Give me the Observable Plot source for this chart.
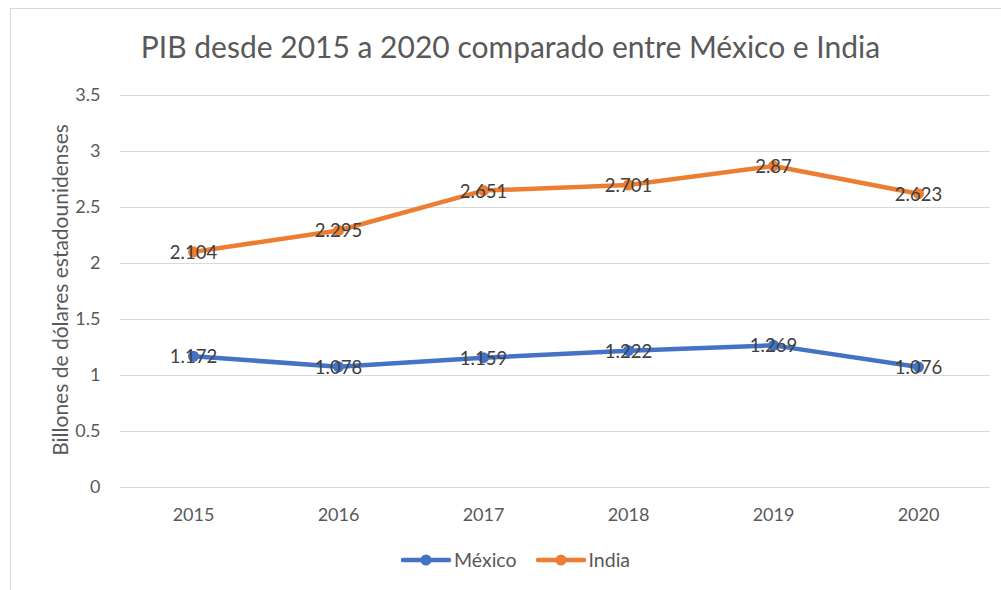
<!DOCTYPE html>
<html>
<head>
<meta charset="utf-8">
<script src="https://cdn.jsdelivr.net/npm/d3@7"></script>
<script src="https://cdn.jsdelivr.net/npm/@observablehq/plot@0.6"></script>
<style>
  html, body { margin: 0; padding: 0; background: #fff; }
  #wrap { position: relative; width: 1001px; height: 590px; overflow: hidden; font-family: Lato, "Open Sans", sans-serif; }
  #frame { position: absolute; left: 10px; top: 8px; width: 1010px; height: 600px; border: 1px solid #d9d9d9; box-sizing: border-box; }
  #title { position: absolute; left: 0; width: 1021px; top: 28px; text-align: center; font-size: 30px; color: #595959; }
  #ylab { position: absolute; left: 59px; top: 290px; transform: translate(-50%, -50%) rotate(-90deg); white-space: nowrap; font-size: 21px; color: #595959; }
  #chart { position: absolute; left: 0; top: 0; }
  #legend { position: absolute; top: 548px; left: 0; width: 1001px; display: flex; justify-content: center; gap: 19px; font-size: 19.5px; color: #595959; padding-left: 30px; box-sizing: border-box; }
  #legend .item { display: flex; align-items: center; gap: 3px; }
</style>
</head>
<body>
<div id="wrap">
  <div id="frame"></div>
  <div id="chart"></div>
  <div id="title">PIB desde 2015 a 2020 comparado entre México e India</div>
  <div id="ylab">Billones de dólares estadounidenses</div>
  <div id="legend"></div>
</div>
<script>
const years = ["2015", "2016", "2017", "2018", "2019", "2020"];
const mexico = [1.172, 1.078, 1.159, 1.222, 1.269, 1.076];
const india = [2.104, 2.295, 2.651, 2.701, 2.87, 2.623];
const seriesNames = ["México", "India"];
const seriesColors = ["#4472C4", "#ED7D31"];
const yTicks = [0, 0.5, 1, 1.5, 2, 2.5, 3, 3.5];

const rows = [];
years.forEach((y, i) => {
  rows.push({year: y, value: mexico[i], series: seriesNames[0]});
});
years.forEach((y, i) => {
  rows.push({year: y, value: india[i], series: seriesNames[1]});
});

const fmt = v => String(v);

const chart = Plot.plot({
  width: 1001,
  height: 590,
  marginLeft: 120,
  marginRight: 11,
  marginTop: 95,
  marginBottom: 103,
  style: {fontFamily: "Lato, 'Open Sans', sans-serif", fontSize: "18px", color: "#595959", background: "transparent"},
  x: {type: "point", domain: years, padding: 0.5, label: null},
  y: {domain: [0, 3.5], label: null},
  color: {domain: seriesNames, range: seriesColors},
  marks: [
    Plot.ruleY(yTicks, {stroke: "#d9d9d9", strokeWidth: 1.2}),
    Plot.axisY(yTicks, {tickSize: 0, tickPadding: 20, tickFormat: fmt, fontSize: 18, fill: "#595959", label: null}),
    Plot.axisX(years, {tickSize: 0, tickPadding: 21, fontSize: 18, fill: "#595959", label: null}),
    Plot.line(rows, {x: "year", y: "value", z: "series", stroke: "series", strokeWidth: 4.5, strokeLinejoin: "round", strokeLinecap: "round"}),
    Plot.dot(rows, {x: "year", y: "value", fill: "series", r: 5.5, stroke: null}),
    Plot.text(rows, {x: "year", y: "value", text: d => fmt(d.value), fill: "#404040", fontSize: 18.5, dy: 1})
  ]
});
document.getElementById("chart").appendChild(chart);

const legend = document.getElementById("legend");
seriesNames.forEach((name, i) => {
  const item = document.createElement("div");
  item.className = "item";
  item.innerHTML = `<svg width="50" height="14"><line x1="2" y1="7" x2="48" y2="7" stroke="${seriesColors[i]}" stroke-width="4.5" stroke-linecap="round"/><circle cx="25" cy="7" r="5.5" fill="${seriesColors[i]}"/></svg><span>${name}</span>`;
  legend.appendChild(item);
});
</script>
</body>
</html>
